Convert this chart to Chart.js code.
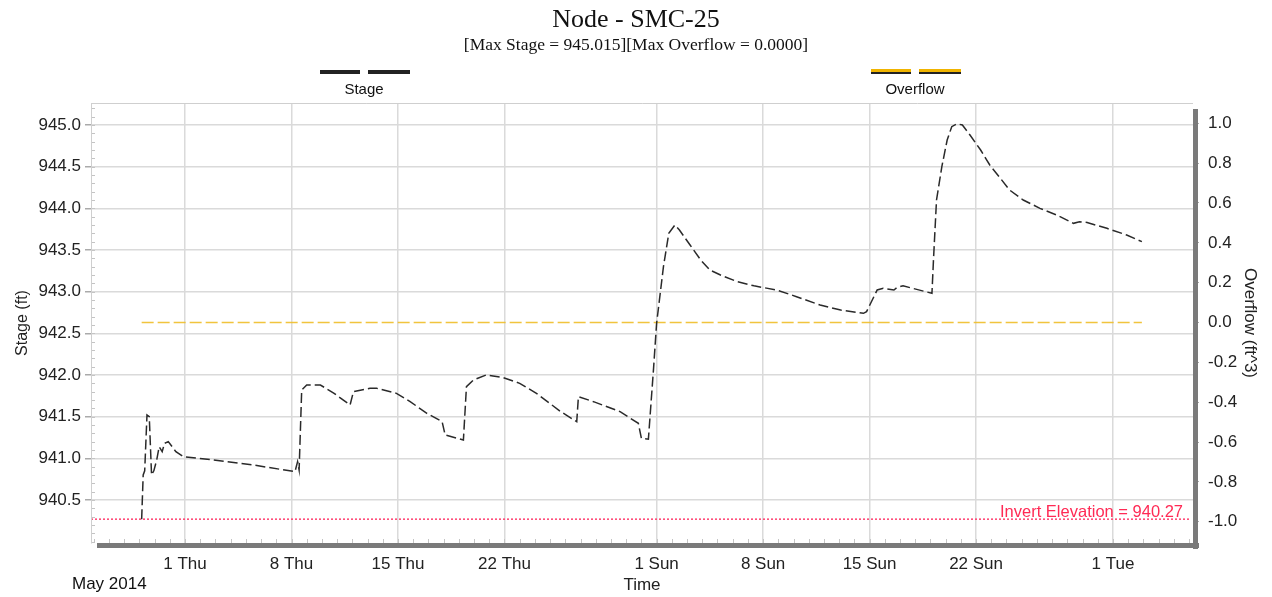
<!DOCTYPE html>
<html>
<head>
<meta charset="utf-8">
<title>Node - SMC-25</title>
<script src="https://cdn.jsdelivr.net/npm/chart.js@4.4.1/dist/chart.umd.min.js"></script>
<style>
  html, body { margin: 0; padding: 0; background: #fff; }
</style>
</head>
<body>
<canvas id="chart" width="1272" height="597"></canvas>
<script>
// time is in days since 1 May 2014 00:00
const xTickDays = [0, 7, 14, 21, 31, 38, 45, 52, 61];
const xTickLabels = ['1 Thu', '8 Thu', '15 Thu', '22 Thu', '1 Sun', '8 Sun', '15 Sun', '22 Sun', '1 Tue'];
const stageTicks = [940.5, 941.0, 941.5, 942.0, 942.5, 943.0, 943.5, 944.0, 944.5, 945.0];
const overflowTicks = [-1.0, -0.8, -0.6, -0.4, -0.2, 0.0, 0.2, 0.4, 0.6, 0.8, 1.0];

const stageDays = [
    -2.85, -2.75, -2.65, -2.5, -2.35, -2.2, -2.05, -1.86, -1.7, -1.5, -1.35, -1.1, -0.6, -0.1,
    1.86, 4.5, 7.23, 7.4, 7.5, 7.67, 8.0, 8.9, 9.8, 10.85, 11.07, 12.16, 12.6, 13.9, 14.8,
    15.9, 16.9, 17.1, 18.3, 18.5, 18.96, 19.8, 20.9, 22.0, 23.1, 24.7, 25.75, 25.86, 26.85,
    28.6, 29.8, 30.0, 30.46, 30.8, 31.0, 31.45, 31.8, 32.2, 32.5, 33.2, 33.9, 34.5, 35.2,
    36.3, 37.4, 38.9, 40.2, 41.75, 43.1, 44.6, 44.8, 45.5, 45.9, 46.6, 46.8, 47.2, 49.1,
    49.2, 49.4, 49.75, 50.1, 50.4, 50.75, 51.1, 51.6, 52.3, 52.9, 53.6, 54.2, 55.1, 56.2,
    57.3, 58.4, 58.8, 59.3, 60.6, 61.9, 62.9
];
const stageValues = [
    940.27, 940.8, 940.85, 941.52, 941.5, 940.8, 940.85, 940.98, 941.14, 941.08, 941.18, 941.2, 941.08, 941.02,
    940.98, 940.92, 940.84, 940.96, 940.86, 941.82, 941.88, 941.88, 941.78, 941.64, 941.8, 941.84, 941.84, 941.78, 941.68,
    941.54, 941.44, 941.28, 941.22, 941.86, 941.94, 942.0, 941.97, 941.9, 941.78, 941.56, 941.44, 941.74, 941.68,
    941.56, 941.42, 941.24, 941.23, 942.08, 942.62, 943.3, 943.7, 943.8, 943.74, 943.56, 943.38, 943.26, 943.2,
    943.12, 943.07, 943.02, 942.94, 942.84, 942.78, 942.74, 942.76, 943.02, 943.04, 943.02, 943.05, 943.07, 942.98,
    943.38, 944.1, 944.5, 944.82, 944.98, 945.015, 945.0, 944.88, 944.7, 944.52, 944.36, 944.22, 944.1, 944.0,
    943.92, 943.82, 943.84, 943.83, 943.76, 943.68, 943.6
];

const overflowDays = [-2.85, 62.9];
const overflowValues = [0.0, 0.0];

const invertElevation = 940.27;
const xRange = [-6.18, 66.26];

const SANS = "'Liberation Sans', Arial, sans-serif";
const SERIF = "'Liberation Serif', 'Times New Roman', serif";

function toPoints(xs, ys) {
    return xs.map((x, i) => ({ x: x, y: ys[i] }));
}

function setTicks(values) {
    return function (scale) {
        scale.ticks = values.map(v => ({ value: v }));
    };
}

const decorPlugin = {
    id: 'decor',
    beforeDatasetsDraw(chart) {
        const ctx = chart.ctx;
        const area = chart.chartArea;
        const xs = chart.scales.x;
        const ys = chart.scales.y;
        ctx.save();
        // small minor ticks inside the plot, left and bottom
        ctx.strokeStyle = '#c4c4c4';
        ctx.lineWidth = 1;
        ctx.beginPath();
        for (let v = 940.0; v <= 945.25; v += 0.1) {
            const py = Math.round(ys.getPixelForValue(v)) + 0.5;
            if (py < area.top || py > area.bottom) continue;
            ctx.moveTo(area.left, py);
            ctx.lineTo(area.left + 4, py);
        }
        for (let d = -6; d <= 66; d++) {
            const px = Math.round(xs.getPixelForValue(d)) + 0.5;
            if (px < area.left || px > area.right) continue;
            ctx.moveTo(px, area.bottom);
            ctx.lineTo(px, area.bottom - 4);
        }
        ctx.stroke();
        ctx.restore();
    },
    afterDraw(chart) {
        const ctx = chart.ctx;
        const area = chart.chartArea;
        ctx.save();

        // light frame top and left
        ctx.strokeStyle = '#cfcfcf';
        ctx.lineWidth = 1;
        ctx.beginPath();
        ctx.moveTo(area.left + 0.5, area.bottom);
        ctx.lineTo(area.left + 0.5, area.top + 0.5);
        ctx.lineTo(area.right, area.top + 0.5);
        ctx.stroke();

        // dark shadow band right and bottom
        ctx.fillStyle = '#7a7a7a';
        ctx.fillRect(area.left + 6, area.bottom, area.right - area.left, 5);
        ctx.fillRect(area.right, area.top + 6, 5, area.bottom - area.top);

        // title + subtitle
        ctx.fillStyle = '#111';
        ctx.textAlign = 'center';
        ctx.textBaseline = 'middle';
        ctx.font = '26px ' + SERIF;
        ctx.fillText('Node - SMC-25', 636, 20);
        ctx.font = '17.5px ' + SERIF;
        ctx.fillText('[Max Stage = 945.015][Max Overflow = 0.0000]', 636, 45);

        // legend
        const legend = [
            { cx: 364, color: '#222', label: 'Stage' },
            { cx: 915, color: '#f0b400', label: 'Overflow' }
        ];
        legend.forEach(item => {
            [[-44, -4], [4, 46]].forEach(seg => {
                ctx.lineWidth = 4;
                ctx.strokeStyle = '#222';
                ctx.beginPath();
                ctx.moveTo(item.cx + seg[0], 72);
                ctx.lineTo(item.cx + seg[1], 72);
                ctx.stroke();
                if (item.color !== '#222') {
                    ctx.lineWidth = 3;
                    ctx.strokeStyle = item.color;
                    ctx.beginPath();
                    ctx.moveTo(item.cx + seg[0], 70.5);
                    ctx.lineTo(item.cx + seg[1], 70.5);
                    ctx.stroke();
                }
            });
            ctx.fillStyle = '#111';
            ctx.font = '15px ' + SANS;
            ctx.fillText(item.label, item.cx, 90);
        });

        // invert elevation label
        ctx.fillStyle = '#ff2a55';
        ctx.font = '16.5px ' + SANS;
        ctx.textAlign = 'right';
        ctx.fillText('Invert Elevation = 940.27', 1183, 512);

        // month label
        ctx.fillStyle = '#111';
        ctx.font = '17px ' + SANS;
        ctx.textAlign = 'left';
        ctx.fillText('May 2014', 72, 584);

        ctx.restore();
    }
};

Chart.defaults.font.family = SANS;
Chart.defaults.color = '#222';

const ctx = document.getElementById('chart').getContext('2d');
const myChart = new Chart(ctx, {
    type: 'line',
    data: {
        datasets: [
            {
                label: 'Stage',
                data: toPoints(stageDays, stageValues),
                yAxisID: 'y',
                borderColor: '#2a2a2a',
                borderWidth: 1.5,
                borderDash: [10, 4],
                pointRadius: 0,
                tension: 0
            },
            {
                label: 'Overflow',
                data: toPoints(overflowDays, overflowValues),
                yAxisID: 'y1',
                borderColor: 'rgba(240, 190, 40, 0.9)',
                borderWidth: 1.5,
                borderDash: [12, 4],
                pointRadius: 0
            },
            {
                label: 'Invert Elevation',
                data: toPoints([xRange[0], 66.0], [invertElevation, invertElevation]),
                yAxisID: 'y',
                borderColor: '#ff4070',
                borderWidth: 1.5,
                borderDash: [2, 2],
                pointRadius: 0
            }
        ]
    },
    options: {
        responsive: false,
        animation: false,
        layout: { padding: { top: 103, left: 0, right: 0, bottom: 0 } },
        plugins: {
            legend: { display: false },
            tooltip: { enabled: false },
            title: { display: false }
        },
        scales: {
            x: {
                type: 'linear',
                min: xRange[0],
                max: xRange[1],
                afterBuildTicks: setTicks(xTickDays),
                afterFit: scale => { scale.height = 54; },
                grid: { color: '#dadada', lineWidth: 1.5, tickLength: 5, tickColor: '#aaa' },
                border: { display: false },
                ticks: {
                    autoSkip: false,
                    maxRotation: 0,
                    padding: 6,
                    font: { size: 17 },
                    callback: value => xTickLabels[xTickDays.indexOf(value)]
                },
                title: {
                    display: true,
                    text: 'Time',
                    font: { size: 17 },
                    padding: { top: 0, bottom: 1 }
                }
            },
            y: {
                position: 'left',
                min: 939.984,
                max: 945.264,
                afterBuildTicks: setTicks(stageTicks),
                afterFit: scale => { scale.width = 91; },
                grid: { color: '#dadada', lineWidth: 1.5, tickLength: 6, tickColor: '#aaa' },
                border: { color: '#cfcfcf' },
                ticks: {
                    padding: 4,
                    font: { size: 17 },
                    callback: value => value.toFixed(1)
                },
                title: {
                    display: true,
                    text: 'Stage (ft)',
                    font: { size: 16 },
                    padding: { top: 13, bottom: 0 }
                }
            },
            y1: {
                position: 'right',
                min: -1.107,
                max: 1.102,
                afterBuildTicks: setTicks(overflowTicks),
                afterFit: scale => { scale.width = 79; },
                grid: { drawOnChartArea: false, tickLength: 6, tickColor: '#aaa' },
                border: { display: false },
                ticks: {
                    padding: 9,
                    font: { size: 17 },
                    callback: value => value.toFixed(1)
                },
                title: {
                    display: true,
                    text: 'Overflow (ft^3)',
                    font: { size: 17 },
                    padding: { top: 12, bottom: 0 }
                }
            }
        }
    },
    plugins: [decorPlugin]
});
</script>
</body>
</html>
